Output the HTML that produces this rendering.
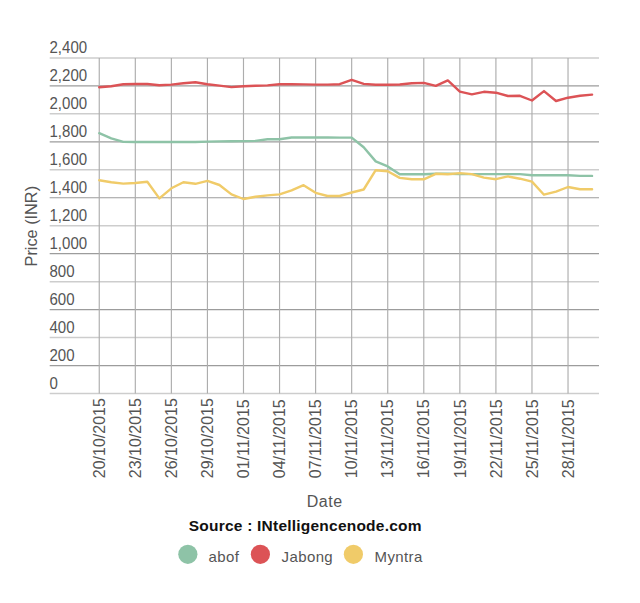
<!DOCTYPE html>
<html><head><meta charset="utf-8"><style>
html,body{margin:0;padding:0;background:#fff;}
body{width:640px;height:603px;overflow:hidden;}
svg{display:block;font-family:"Liberation Sans",sans-serif;}
</style></head><body>
<svg width="640" height="603" viewBox="0 0 640 603">
<rect width="640" height="603" fill="#fff"/>
<g stroke="#adadad" stroke-width="1.15" fill="none">
<line x1="49.7" y1="57.9" x2="599" y2="57.9" stroke="#cdcdcd" stroke-width="1.5"/><line x1="49.7" y1="85.87" x2="599" y2="85.87" stroke="#9c9c9c" stroke-width="1.15"/><line x1="49.7" y1="113.84" x2="599" y2="113.84" stroke="#cdcdcd" stroke-width="1.5"/><line x1="49.7" y1="141.81" x2="599" y2="141.81" stroke="#9c9c9c" stroke-width="1.15"/><line x1="49.7" y1="169.78" x2="599" y2="169.78" stroke="#cdcdcd" stroke-width="1.5"/><line x1="49.7" y1="197.75" x2="599" y2="197.75" stroke="#9c9c9c" stroke-width="1.15"/><line x1="49.7" y1="225.72" x2="599" y2="225.72" stroke="#cdcdcd" stroke-width="1.5"/><line x1="49.7" y1="253.69" x2="599" y2="253.69" stroke="#9c9c9c" stroke-width="1.15"/><line x1="49.7" y1="281.66" x2="599" y2="281.66" stroke="#cdcdcd" stroke-width="1.5"/><line x1="49.7" y1="309.63" x2="599" y2="309.63" stroke="#9c9c9c" stroke-width="1.15"/><line x1="49.7" y1="337.6" x2="599" y2="337.6" stroke="#cdcdcd" stroke-width="1.5"/><line x1="49.7" y1="365.57" x2="599" y2="365.57" stroke="#9c9c9c" stroke-width="1.15"/><line x1="49.7" y1="393.54" x2="599" y2="393.54" stroke="#cdcdcd" stroke-width="1.5"/>
<line x1="99.25" y1="57.9" x2="99.25" y2="393.5"/><line x1="135.31" y1="57.9" x2="135.31" y2="393.5"/><line x1="171.37" y1="57.9" x2="171.37" y2="393.5"/><line x1="207.43" y1="57.9" x2="207.43" y2="393.5"/><line x1="243.49" y1="57.9" x2="243.49" y2="393.5"/><line x1="279.55" y1="57.9" x2="279.55" y2="393.5"/><line x1="315.61" y1="57.9" x2="315.61" y2="393.5"/><line x1="351.67" y1="57.9" x2="351.67" y2="393.5"/><line x1="387.73" y1="57.9" x2="387.73" y2="393.5"/><line x1="423.79" y1="57.9" x2="423.79" y2="393.5"/><line x1="459.85" y1="57.9" x2="459.85" y2="393.5"/><line x1="495.91" y1="57.9" x2="495.91" y2="393.5"/><line x1="531.97" y1="57.9" x2="531.97" y2="393.5"/><line x1="568.03" y1="57.9" x2="568.03" y2="393.5"/>
</g>
<g fill="#555" font-size="16">
<text transform="translate(49.5,52.90) scale(0.94,1)">2,400</text><text transform="translate(49.5,80.87) scale(0.94,1)">2,200</text><text transform="translate(49.5,108.84) scale(0.94,1)">2,000</text><text transform="translate(49.5,136.81) scale(0.94,1)">1,800</text><text transform="translate(49.5,164.78) scale(0.94,1)">1,600</text><text transform="translate(49.5,192.75) scale(0.94,1)">1,400</text><text transform="translate(49.5,220.72) scale(0.94,1)">1,200</text><text transform="translate(49.5,248.69) scale(0.94,1)">1,000</text><text transform="translate(49.5,276.66) scale(0.94,1)">800</text><text transform="translate(49.5,304.63) scale(0.94,1)">600</text><text transform="translate(49.5,332.60) scale(0.94,1)">400</text><text transform="translate(49.5,360.57) scale(0.94,1)">200</text><text transform="translate(49.5,388.54) scale(0.94,1)">0</text>
</g>
<g fill="#555" font-size="16">
<text transform="translate(104.95,478.2) rotate(-90)">20/10/2015</text><text transform="translate(141.01,478.2) rotate(-90)">23/10/2015</text><text transform="translate(177.07,478.2) rotate(-90)">26/10/2015</text><text transform="translate(213.13,478.2) rotate(-90)">29/10/2015</text><text transform="translate(249.19,478.2) rotate(-90)">01/11/2015</text><text transform="translate(285.25,478.2) rotate(-90)">04/11/2015</text><text transform="translate(321.31,478.2) rotate(-90)">07/11/2015</text><text transform="translate(357.37,478.2) rotate(-90)">10/11/2015</text><text transform="translate(393.43,478.2) rotate(-90)">13/11/2015</text><text transform="translate(429.49,478.2) rotate(-90)">16/11/2015</text><text transform="translate(465.55,478.2) rotate(-90)">19/11/2015</text><text transform="translate(501.61,478.2) rotate(-90)">22/11/2015</text><text transform="translate(537.67,478.2) rotate(-90)">25/11/2015</text><text transform="translate(573.73,478.2) rotate(-90)">28/11/2015</text>
</g>
<text transform="translate(36.8,226.2) rotate(-90)" text-anchor="middle" font-size="16.3" fill="#555">Price (INR)</text>
<text x="306.8" y="507" font-size="16" letter-spacing="0.5" fill="#555">Date</text>
<text x="188.8" y="531" font-size="15.5" letter-spacing="0.22" font-weight="bold" fill="#111">Source : INtelligencenode.com</text>
<g fill="none" stroke-width="2.4" stroke-linejoin="round" stroke-linecap="round">
<polyline stroke="#8ec3a7" points="99.25,133.20 111.27,138.30 123.29,141.90 135.31,142.00 147.33,142.00 159.35,142.00 171.37,142.00 183.39,142.00 195.41,142.00 207.43,141.60 219.45,141.40 231.47,141.30 243.49,141.10 255.51,140.90 267.53,139.30 279.55,139.30 291.57,137.50 303.59,137.50 315.61,137.50 327.63,137.50 339.65,137.60 351.67,137.60 363.69,147.30 375.71,161.40 387.73,166.40 399.75,174.20 411.77,174.20 423.79,174.20 435.81,173.80 447.83,173.80 459.85,174.10 471.87,174.10 483.89,174.10 495.91,174.10 507.93,174.10 519.95,174.10 531.97,175.20 543.99,175.20 556.01,175.20 568.03,175.20 580.05,175.90 592.07,175.90"/>
<polyline stroke="#dc5356" points="99.25,87.30 111.27,86.25 123.29,84.20 135.31,84.00 147.33,84.00 159.35,85.20 171.37,84.60 183.39,83.20 195.41,82.20 207.43,84.20 219.45,85.60 231.47,87.10 243.49,86.25 255.51,85.80 267.53,85.40 279.55,84.20 291.57,84.20 303.59,84.40 315.61,84.60 327.63,84.60 339.65,84.20 351.67,79.80 363.69,83.90 375.71,84.70 387.73,84.70 399.75,84.50 411.77,83.30 423.79,82.90 435.81,85.90 447.83,80.40 459.85,91.60 471.87,94.40 483.89,91.80 495.91,92.70 507.93,96.00 519.95,95.80 531.97,100.50 543.99,91.10 556.01,101.00 568.03,97.70 580.05,95.80 592.07,94.60"/>
<polyline stroke="#f0cb69" points="99.25,180.20 111.27,182.20 123.29,183.60 135.31,183.00 147.33,181.80 159.35,198.40 171.37,188.30 183.39,182.20 195.41,183.80 207.43,180.80 219.45,185.00 231.47,194.40 243.49,199.00 255.51,196.80 267.53,195.40 279.55,194.40 291.57,190.30 303.59,185.20 315.61,192.80 327.63,196.00 339.65,196.00 351.67,192.50 363.69,189.50 375.71,170.20 387.73,171.20 399.75,177.90 411.77,179.30 423.79,179.30 435.81,173.80 447.83,174.20 459.85,173.10 471.87,174.10 483.89,177.60 495.91,179.20 507.93,176.40 519.95,178.70 531.97,181.60 543.99,194.70 556.01,191.60 568.03,187.00 580.05,189.30 592.07,189.30"/>
</g>
<circle cx="187.85" cy="554.3" r="9.6" fill="#8ec3a7"/>
<circle cx="260.4" cy="554.3" r="9.6" fill="#dc5356"/>
<circle cx="353.4" cy="554.3" r="9.6" fill="#f0cb69"/>
<g fill="#555" font-size="15" letter-spacing="0.4">
<text x="208.6" y="562">abof</text>
<text x="281.5" y="562">Jabong</text>
<text x="374.5" y="562">Myntra</text>
</g>
</svg>
</body></html>
